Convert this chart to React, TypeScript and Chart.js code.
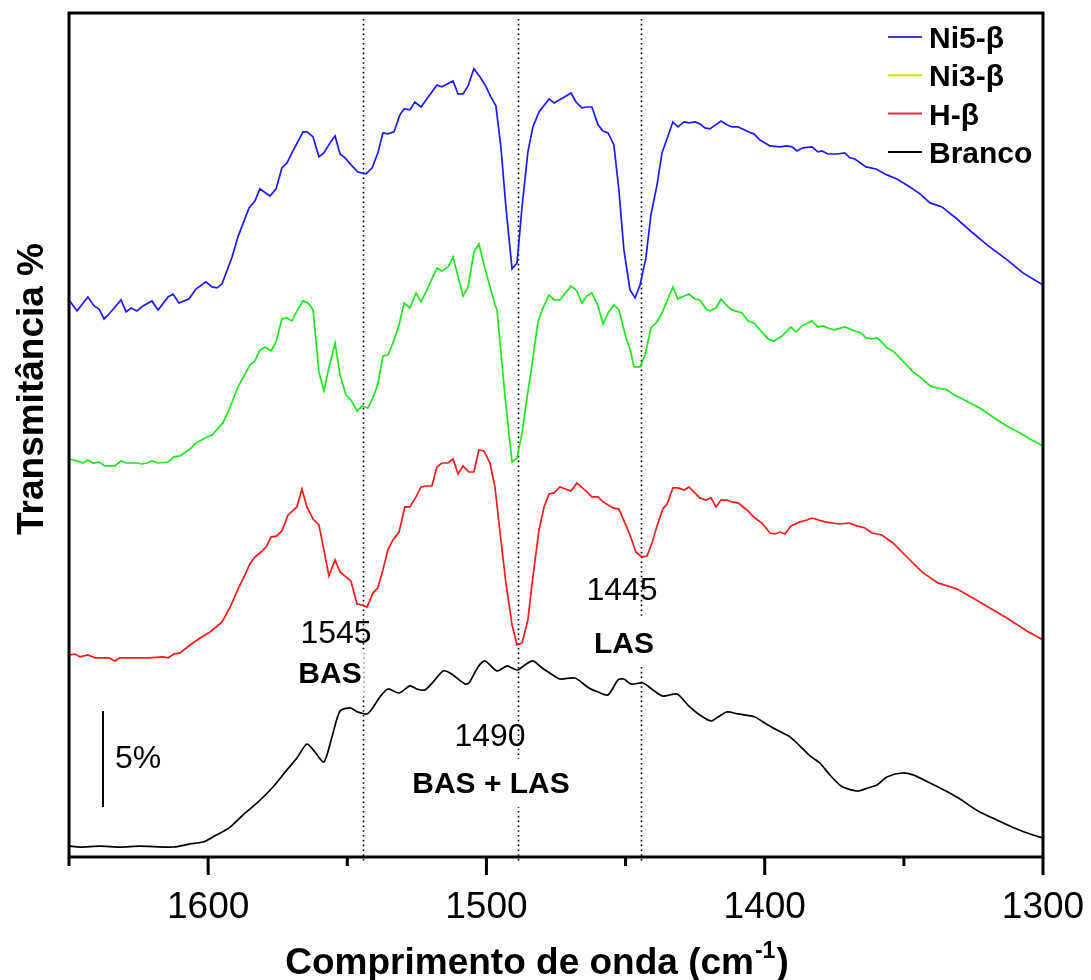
import React, { useEffect, useRef } from "react";
import { Chart, registerables } from "chart.js";

Chart.register(...registerables);

const FONT = '"Liberation Sans", Arial, Helvetica, sans-serif';

// [wavenumber cm-1, transmittance %]
const NI5: [number, number][] = [[1650,29.04],[1647.1,28.47],[1643.2,29.2],[1641,28.73],[1639.2,28.57],[1637.4,28.05],[1635.3,28.36],[1631.3,29.04],[1629.5,28.42],[1627.7,28.62],[1625.6,28.47],[1623.4,28.73],[1620.2,28.99],[1618,28.52],[1614.4,29.2],[1612.6,29.35],[1610.5,28.88],[1606.9,29.09],[1604.4,29.61],[1600.8,29.98],[1598.6,29.72],[1596.8,29.67],[1595,29.88],[1591.4,31.28],[1589.3,32.33],[1585.3,33.84],[1583.2,34.2],[1581.4,34.83],[1577.8,34.46],[1575.6,34.83],[1573.5,35.92],[1571.7,36.18],[1569.9,36.71],[1565.9,37.8],[1564.5,37.8],[1562.3,37.54],[1560.2,36.5],[1558.4,36.71],[1556.2,37.23],[1554.4,37.59],[1552.6,36.65],[1550.8,36.45],[1548.3,36.03],[1546.2,35.71],[1543.3,35.61],[1541.1,35.92],[1539,36.71],[1537.2,37.75],[1535.4,37.7],[1533.2,37.8],[1531.1,38.69],[1529.6,39],[1527.5,38.95],[1525.7,39.36],[1523.5,39.1],[1517.8,40.25],[1516,40.15],[1512,40.46],[1510.2,39.78],[1508.4,39.78],[1506.6,40.2],[1504.5,41.09],[1502.3,40.67],[1500.5,40.25],[1498.4,39.63],[1496.6,39.16],[1494.8,37.02],[1493,33.89],[1490.8,30.66],[1489,30.97],[1487.2,33.89],[1485.1,36.76],[1483.3,38.06],[1481.1,38.84],[1477.5,39.52],[1475.7,39.31],[1471.8,39.63],[1469.6,39.83],[1467.8,39.36],[1465.7,39.05],[1463.9,39.1],[1462.1,39.1],[1459.9,38.17],[1458.1,37.85],[1456.3,37.75],[1454.2,37.12],[1452.4,34.78],[1450.6,31.65],[1448.4,29.56],[1446.6,29.15],[1444.8,29.82],[1442.7,31.23],[1440.9,33.47],[1438.7,35.04],[1436.9,36.71],[1433,38.32],[1431.2,38.06],[1429,38.32],[1427.2,38.27],[1425.1,38.32],[1423.3,38.22],[1421.5,38.01],[1419.7,37.96],[1415.7,38.37],[1413.6,38.17],[1411.8,38.06],[1409.6,38.06],[1405.7,37.8],[1403.9,37.7],[1401.7,37.38],[1398.1,37.07],[1394.5,37.02],[1392,37.07],[1390.2,37.02],[1388.4,36.81],[1386.3,36.97],[1383,37.02],[1380.9,36.76],[1379.4,36.81],[1377.3,36.65],[1374,36.65],[1371.2,36.71],[1369.4,36.45],[1367.6,36.39],[1363.6,35.98],[1360,35.87],[1356.1,35.56],[1352.5,35.35],[1347.8,34.93],[1344.2,34.57],[1340.6,34.1],[1336.3,33.89],[1330.9,33.26],[1325.2,32.53],[1320.1,31.91],[1312.9,31.13],[1307.2,30.45],[1300,29.82]];

const NI3: [number, number][] = [[1650,20.75],[1647.1,20.65],[1645,20.54],[1643.2,20.7],[1641.4,20.54],[1639.2,20.59],[1637.1,20.39],[1633.5,20.39],[1631.3,20.65],[1629.5,20.54],[1625.6,20.54],[1623.8,20.49],[1622,20.54],[1620.2,20.65],[1618,20.54],[1614.4,20.59],[1612.3,20.86],[1610.1,20.91],[1606.5,21.27],[1604.4,21.59],[1600.4,21.9],[1598.6,22],[1594.7,22.63],[1592.1,23.46],[1589.3,24.5],[1585,25.65],[1583.2,25.86],[1581.4,26.43],[1579.6,26.59],[1577.4,26.38],[1575.6,26.85],[1573.5,28.05],[1571.7,28.1],[1569.9,27.95],[1567.7,28.57],[1565.9,28.99],[1564.1,28.88],[1562.3,28.52],[1560.2,25.29],[1558.4,24.3],[1556.6,25.5],[1554.4,26.8],[1552.6,25.13],[1550.5,24.09],[1548.7,23.83],[1546.5,23.25],[1544.7,23.51],[1542.6,23.41],[1540.8,23.93],[1539,24.66],[1537.2,26.12],[1535.4,26.17],[1533.6,26.8],[1531.4,27.74],[1529.6,28.88],[1527.5,28.62],[1525.3,29.41],[1523.5,28.94],[1521.7,29.46],[1517.8,30.71],[1516,30.55],[1513.8,30.76],[1512,31.28],[1508.4,29.25],[1506.6,29.72],[1504.5,31.54],[1502.7,31.96],[1500.5,30.66],[1496.9,28.78],[1496.2,28.52],[1495.1,26.8],[1493.3,23.98],[1490.8,20.59],[1489,20.8],[1487.2,22.11],[1485.4,23.98],[1483.6,25.65],[1481.5,27.89],[1479.7,28.62],[1477.5,29.3],[1475.7,29.04],[1473.6,29.04],[1469.6,29.77],[1467.5,29.51],[1465.7,28.88],[1463.9,29.25],[1462.1,29.41],[1459.9,28.73],[1458.1,27.79],[1456.3,28.36],[1454.2,28.78],[1452.4,28.52],[1449.9,27.11],[1448.1,26.33],[1447,25.55],[1444.8,25.55],[1443,26.17],[1440.9,27.58],[1438.7,27.89],[1436.9,28.36],[1433,29.72],[1431.2,29.09],[1429,29.25],[1427.2,29.35],[1425.1,29.09],[1423.3,29.04],[1421.1,28.57],[1419.7,28.47],[1417.5,28.62],[1415.7,29.09],[1413.6,28.73],[1411.8,28.52],[1408.2,28.36],[1406,27.95],[1403.9,27.84],[1401.7,27.48],[1398.8,27.01],[1396.7,26.9],[1393.8,27.16],[1390.6,27.63],[1388.8,27.37],[1386.6,27.69],[1383,27.95],[1380.9,27.63],[1379.1,27.69],[1377.3,27.58],[1375.1,27.48],[1371.2,27.63],[1367.6,27.42],[1365.4,27.32],[1363.6,27.06],[1361.5,27.01],[1359.7,27.06],[1357.9,26.85],[1356.1,26.54],[1353.9,26.38],[1350.7,25.91],[1346.7,25.29],[1344.2,25.03],[1340.6,24.56],[1338.1,24.45],[1334.5,24.35],[1332.4,24.14],[1326.9,23.72],[1322.7,23.41],[1318,22.94],[1313,22.47],[1308.3,22.11],[1304.7,21.79],[1300,21.43]];

const HB: [number, number][] = [[1650,10.53],[1647.8,10.58],[1646,10.43],[1643.2,10.53],[1640.7,10.38],[1635.6,10.38],[1633.5,10.22],[1631.7,10.38],[1627,10.38],[1623.4,10.38],[1621.6,10.38],[1616.2,10.43],[1614.4,10.38],[1612.3,10.58],[1610.1,10.64],[1606.5,11.05],[1602.9,11.42],[1599.3,11.73],[1595,12.25],[1592.1,13.03],[1588.9,14.08],[1586.8,14.7],[1585,15.28],[1583.2,15.64],[1581,15.9],[1579.2,16.16],[1577.4,16.68],[1575.3,16.74],[1573.5,17],[1571.3,17.83],[1568.1,18.25],[1566.3,19.19],[1564.5,18.25],[1562.3,17.62],[1560.2,17.31],[1558.4,16.01],[1556.6,14.65],[1554.4,15.49],[1552.6,14.86],[1550.5,14.6],[1548.7,14.39],[1546.5,13.19],[1544.7,13.14],[1542.9,13.03],[1540.8,13.76],[1539,14.03],[1537.2,14.96],[1535.4,16.01],[1533.6,16.53],[1531.4,16.94],[1529.3,18.25],[1527.5,18.25],[1525.3,18.77],[1523.5,19.29],[1521.7,19.34],[1519.6,19.34],[1517.8,20.33],[1516,20.54],[1513.8,20.54],[1512,20.75],[1510.2,19.97],[1508.4,20.39],[1506.3,20.07],[1504.5,20.07],[1502.7,21.22],[1500.9,21.17],[1498.7,20.54],[1496.9,19.24],[1495.1,16.89],[1493,14.29],[1490.8,12.1],[1489,11.05],[1487.2,11.16],[1485.1,12.36],[1483.3,14.6],[1481.1,17.05],[1479.3,18.25],[1477.5,18.93],[1475.7,18.98],[1473.6,19.29],[1469.6,19.08],[1467.5,19.5],[1463.9,19.03],[1462.1,18.77],[1459.9,18.77],[1458.1,18.51],[1454.5,18.2],[1452.4,18.14],[1450.2,17.41],[1448.4,16.79],[1446.3,15.9],[1444.1,15.64],[1442.3,15.69],[1440.5,16.37],[1438.7,17.26],[1436.6,18.14],[1435.1,18.4],[1433,19.24],[1431.2,19.24],[1429,19.13],[1427.2,19.29],[1425.1,18.98],[1423.3,18.72],[1421.1,18.61],[1419.3,18.72],[1417.5,18.25],[1415.7,18.61],[1413.6,18.61],[1411.8,18.51],[1409.6,18.46],[1406.4,18.09],[1403.5,17.67],[1401,17.41],[1398.1,16.89],[1396.3,16.84],[1394.5,16.94],[1392.7,16.84],[1390.6,17.26],[1387.3,17.47],[1384.8,17.57],[1383,17.67],[1378.4,17.47],[1373.3,17.36],[1369.7,17.41],[1366.9,17.26],[1364,17.15],[1361.5,16.89],[1357.9,16.79],[1353.9,16.37],[1348.9,15.64],[1343.5,14.86],[1337.8,14.29],[1330.9,13.97],[1325.2,13.5],[1319.1,12.98],[1313,12.46],[1305.8,11.78],[1300,11.31]];

const BRANCO: [number, number][] = [[1650,0.57],[1646,0.52],[1638.9,0.57],[1631.7,0.52],[1624.5,0.57],[1612.6,0.52],[1606.5,0.68],[1601.9,0.78],[1598.3,1.04],[1592.1,1.56],[1587.5,2.19],[1582.4,2.82],[1576.7,3.65],[1571.7,4.54],[1568.1,5.16],[1564.5,5.89],[1561.6,5.47],[1558.4,4.95],[1555.5,6.26],[1552.6,7.61],[1549,7.77],[1546.2,7.56],[1542.9,7.46],[1541.1,7.72],[1538.3,8.34],[1535.4,8.76],[1531.4,8.55],[1527.5,8.92],[1525,8.76],[1522.1,8.71],[1519.2,9.12],[1515.6,9.7],[1513.1,9.59],[1507.7,9.02],[1506.3,9.07],[1503,9.91],[1500.5,10.22],[1496.2,9.7],[1492.6,9.96],[1490.8,9.85],[1488.7,9.75],[1486.2,10.01],[1483.3,10.22],[1480,9.85],[1477.2,9.59],[1473.6,9.28],[1468.2,9.33],[1463.2,8.81],[1459.9,8.6],[1456.3,8.45],[1452.7,9.23],[1450.6,9.28],[1448.1,9.02],[1443.7,9.07],[1440.2,8.71],[1436.6,8.39],[1431.5,8.5],[1427.6,7.92],[1423.3,7.4],[1419.3,7.09],[1416.8,7.3],[1413.6,7.56],[1409.6,7.46],[1403.5,7.3],[1400.6,7.04],[1396.3,6.67],[1390.9,6.26],[1386.6,5.68],[1383.7,5.27],[1380.2,4.9],[1376.6,4.28],[1373,3.75],[1370.1,3.55],[1366.5,3.44],[1362.9,3.6],[1359.7,3.75],[1356.1,4.17],[1350.7,4.38],[1346.7,4.28],[1340.6,3.86],[1334.2,3.39],[1329.8,3.02],[1323.4,2.4],[1316.6,1.93],[1309.4,1.46],[1303.6,1.15],[1300,0.99]];

const SERIES_LABELS = ["Ni5-β", "Ni3-β", "H-β", "Branco"];
const LINE_COLORS = ["#1a1aff", "#1ee81e", "#ff1a1a", "#000000"];
const LEGEND_COLORS = ["#3c3cd0", "#c8e000", "#e2284a", "#000000"];

const MAJOR_TICKS = [1600, 1500, 1400, 1300];
const MINOR_TICKS = [1650, 1550, 1450, 1350];
const PEAK_LINES = [1544.5, 1488.7, 1444.3];
const SCALE_BAR_PERCENT = 5;

const ANNOTATIONS = [
  { text: "1545", x: 336, y: 643, bold: false },
  { text: "BAS", x: 330, y: 683, bold: true },
  { text: "1445", x: 622, y: 600, bold: false },
  { text: "LAS", x: 624, y: 653, bold: true },
  { text: "1490", x: 490, y: 746, bold: false },
  { text: "BAS + LAS", x: 491, y: 793, bold: true },
];

const overlay = {
  id: "overlay",
  beforeDatasetsDraw(chart: any) {
    const { ctx, chartArea: a, scales } = chart;
    const x = scales.x;
    ctx.save();
    ctx.strokeStyle = "#000";
    ctx.lineWidth = 1.6;
    ctx.setLineDash([1.6, 3.2]);
    for (const v of PEAK_LINES) {
      const px = Math.round(x.getPixelForValue(v)) + 0.5;
      ctx.beginPath();
      ctx.moveTo(px, a.top + 6);
      ctx.lineTo(px, a.bottom + 6);
      ctx.stroke();
    }
    ctx.setLineDash([]);
    // white boxes behind bold labels
    ctx.fillStyle = "#fff";
    ctx.font = `bold 30px ${FONT}`;
    for (const an of ANNOTATIONS) {
      if (!an.bold) continue;
      const w = ctx.measureText(an.text).width;
      ctx.fillRect(an.x - w / 2 - 2, an.y - 34, w + 4, 48);
    }
    ctx.restore();
  },
  afterDraw(chart: any) {
    const { ctx, chartArea: a, scales } = chart;
    const x = scales.x;
    const y = scales.y;
    ctx.save();
    // frame
    ctx.strokeStyle = "#000";
    ctx.lineWidth = 3;
    ctx.strokeRect(a.left, a.top, a.right - a.left, a.bottom - a.top);
    // ticks
    ctx.lineCap = "butt";
    for (const v of MAJOR_TICKS) {
      const px = x.getPixelForValue(v);
      ctx.beginPath();
      ctx.moveTo(px, a.bottom);
      ctx.lineTo(px, a.bottom + 18);
      ctx.stroke();
    }
    for (const v of MINOR_TICKS) {
      const px = x.getPixelForValue(v);
      ctx.beginPath();
      ctx.moveTo(px, a.bottom);
      ctx.lineTo(px, a.bottom + 9);
      ctx.stroke();
    }
    // tick labels
    ctx.fillStyle = "#000";
    ctx.font = `37px ${FONT}`;
    ctx.textAlign = "center";
    ctx.textBaseline = "alphabetic";
    for (const v of MAJOR_TICKS) {
      ctx.fillText(String(v), x.getPixelForValue(v), a.bottom + 61);
    }
    // x title with superscript
    const main = "Comprimento de onda (cm";
    const sup = "-1";
    const close = ")";
    ctx.font = `bold 37px ${FONT}`;
    const wMain = ctx.measureText(main).width;
    const wClose = ctx.measureText(close).width;
    ctx.font = `bold 23px ${FONT}`;
    const wSup = ctx.measureText(sup).width;
    const total = wMain + wSup + wClose + 2;
    let sx = 537 - total / 2;
    ctx.textAlign = "left";
    ctx.font = `bold 37px ${FONT}`;
    ctx.fillText(main, sx, 974);
    sx += wMain + 1;
    ctx.font = `bold 23px ${FONT}`;
    ctx.fillText(sup, sx, 958);
    sx += wSup + 1;
    ctx.font = `bold 37px ${FONT}`;
    ctx.fillText(close, sx, 974);
    // y title
    ctx.save();
    ctx.translate(43, 389);
    ctx.rotate(-Math.PI / 2);
    ctx.textAlign = "center";
    ctx.font = `bold 37px ${FONT}`;
    ctx.fillText("Transmitância %", 0, 0);
    ctx.restore();
    // annotations
    ctx.textAlign = "center";
    for (const an of ANNOTATIONS) {
      ctx.font = an.bold ? `bold 30px ${FONT}` : `32px ${FONT}`;
      ctx.fillText(an.text, an.x, an.y);
    }
    // scale bar
    const barLen = y.getPixelForValue(0) - y.getPixelForValue(SCALE_BAR_PERCENT);
    ctx.lineWidth = 2;
    ctx.beginPath();
    ctx.moveTo(103, 807);
    ctx.lineTo(103, 807 - barLen);
    ctx.stroke();
    ctx.textAlign = "left";
    ctx.font = `32px ${FONT}`;
    ctx.fillText(`${SCALE_BAR_PERCENT}%`, 115, 768);
    // legend
    ctx.font = `bold 30px ${FONT}`;
    SERIES_LABELS.forEach((lab, i) => {
      const ly = 37 + i * 38.3;
      ctx.strokeStyle = LEGEND_COLORS[i];
      ctx.lineWidth = 2;
      ctx.beginPath();
      ctx.moveTo(888, ly);
      ctx.lineTo(922, ly);
      ctx.stroke();
      ctx.fillStyle = "#000";
      ctx.fillText(lab, 929, ly + 11);
    });
    ctx.restore();
  },
};

export default function App() {
  const ref = useRef<HTMLCanvasElement>(null);
  useEffect(() => {
    const all = [NI5, NI3, HB, BRANCO];
    const chart = new Chart(ref.current as HTMLCanvasElement, {
      type: "line",
      data: {
        datasets: all.map((pts, i) => ({
          label: SERIES_LABELS[i],
          data: pts.map(([wx, wy]) => ({ x: wx, y: wy })),
          borderColor: LINE_COLORS[i],
          borderWidth: 1.7,
          pointRadius: 0,
          tension: i === 3 ? 0.25 : 0,
          fill: false,
        })),
      },
      options: {
        responsive: false,
        animation: false,
        layout: { padding: { left: 69, right: 48, top: 13, bottom: 123 } },
        scales: {
          x: { type: "linear", reverse: true, min: 1300, max: 1650, display: false },
          y: { type: "linear", min: 0, max: 44, display: false },
        },
        plugins: { legend: { display: false }, tooltip: { enabled: false } },
      },
      plugins: [overlay],
    } as any);
    return () => chart.destroy();
  }, []);
  return (
    <div style={{ position: "absolute", left: 0, top: 0, width: 1091, height: 980, background: "#fff" }}>
      <canvas ref={ref} width={1091} height={980} style={{ width: 1091, height: 980, display: "block" }} />
    </div>
  );
}
